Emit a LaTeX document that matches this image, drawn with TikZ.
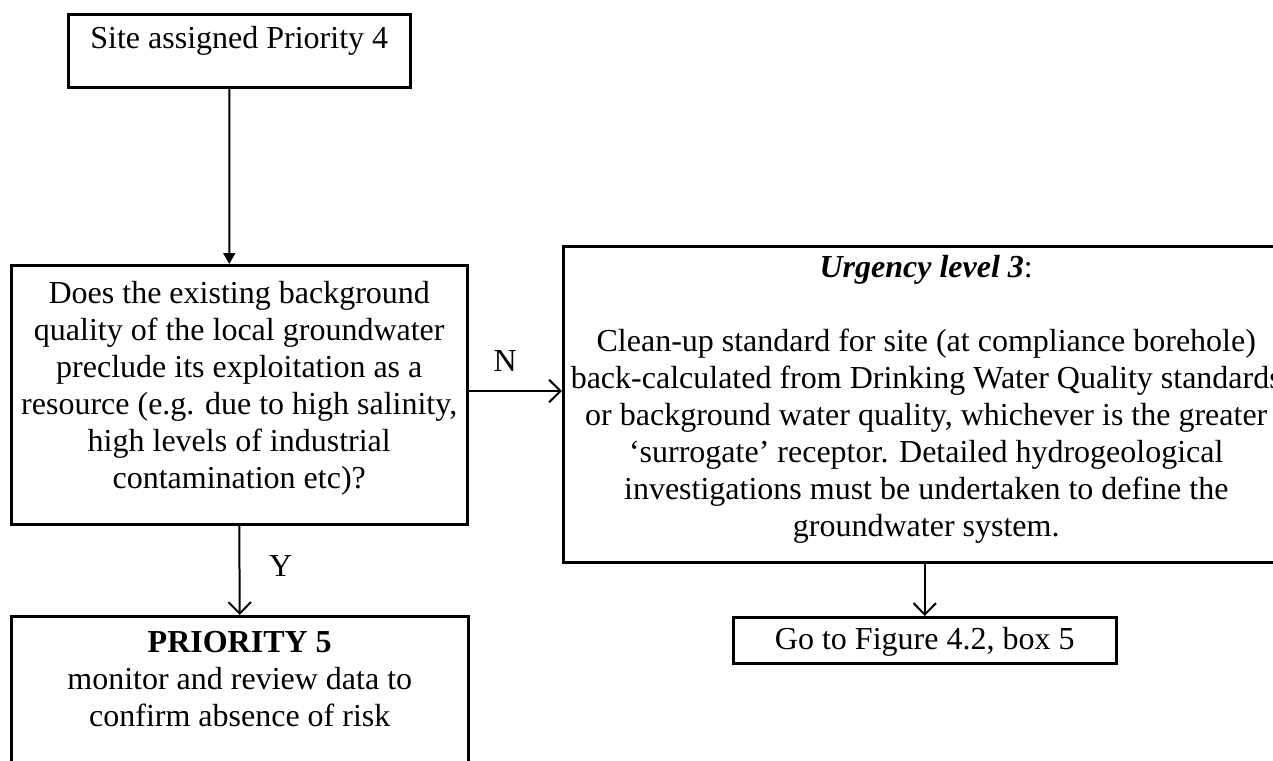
\documentclass[tikz,border=0pt]{standalone}
\usepackage{fontspec}
\setmainfont{Liberation Serif}
\usetikzlibrary{arrows.meta,positioning}

\begin{document}
\begin{tikzpicture}[x=0.4pt,y=-0.4pt,
  every node/.style={font=\fontsize{12.8}{14.8}\selectfont},
  box/.style={draw,line width=1pt,rectangle,align=center,anchor=north west,inner xsep=0pt,inner ysep=0pt},
  flow/.style={line width=0.8pt,-{Straight Barb[length=4.6pt,width=9pt]}},
  lbl/.style={inner sep=0pt}]
\useasboundingbox (0,0) rectangle (1273,760);
\node[box,minimum width=136.8pt,text height=13.6pt,text depth=15.6pt] (p4) at (67,13) {Site assigned Priority 4};
\node[box,minimum width=182.4pt,text height=89.2pt,text depth=14.4pt] (query) at (10,264) {Does the existing background\\
quality of the local groundwater\\
preclude its exploitation as a\\
resource (e.g. due to high salinity,\\
high levels of industrial\\
contamination etc)?};
\node[box,minimum width=290.4pt,text height=116pt,text depth=10.4pt] (urg) at (562,245) {\textbf{\textit{Urgency level 3}}:\\[14.8pt]
Clean-up standard for site (at compliance borehole)\\
back-calculated from Drinking Water Quality standards\\
or background water quality, whichever is the greater\\
‘surrogate’ receptor. Detailed hydrogeological\\
investigations must be undertaken to define the\\
groundwater system.};
\node[box,minimum width=182.8pt,text height=44pt,text depth=18pt] (prio) at (10,615) {\textbf{PRIORITY 5}\\
monitor and review data to\\
confirm absence of risk};
\node[box,minimum width=153.2pt,text height=12.8pt,text depth=5.6pt] (goto) at (732,616) {Go to Figure 4.2, box 5};
\coordinate (nrow) at (0,391);
% connectors
\draw[line width=0.8pt,-{Triangle[length=4.4pt,width=4.8pt]}] ([xshift=-4pt]p4.south) -- ([xshift=-4pt]query.north);
\draw[flow] (query.east |- nrow) -- (urg.west |- nrow) node[lbl,midway,above=7.6pt,xshift=-4pt] (nlab) {N};
\draw[flow] (query.south) -- (prio.north) node[lbl,midway,right=11.4pt,yshift=1.6pt] (ylab) {Y};
\draw[flow] (goto.north |- urg.south) -- (goto.north);
\end{tikzpicture}
\end{document}
